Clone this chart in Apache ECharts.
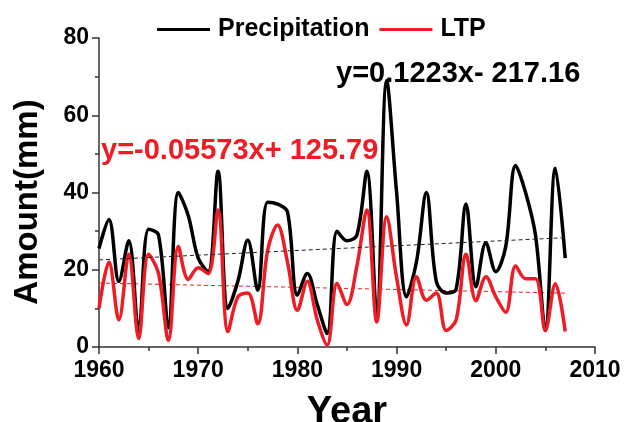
<!DOCTYPE html>
<html>
<head>
<meta charset="utf-8">
<script src="https://cdn.jsdelivr.net/npm/echarts@6/dist/echarts.min.js"></script>
<style>
html,body{margin:0;padding:0;background:#fff;}
#chart{width:625px;height:422px;}
</style>
</head>
<body>
<div id="chart"></div>
<script>
var years = [1960,1961,1962,1963,1964,1965,1966,1967,1968,1969,1970,1971,1972,1973,1974,1975,1976,1977,1978,1979,1980,1981,1982,1983,1984,1985,1986,1987,1988,1989,1990,1991,1992,1993,1994,1995,1996,1997,1998,1999,2000,2001,2002,2003,2004,2005,2006,2007];
var precipitation = [25.5,33,17,27.5,4,30.5,29,5,40,34,23,19.5,45.5,10,17,27.7,14.7,37.5,37,35,13.4,19,11,3.5,30,27.5,29,45.5,8,69,40,13,22,40,17,14,15,37,15.6,27,19.5,26,47,40,29,4.3,46.3,23];
var ltp = [10,22,7,24,2.2,24,19,1.7,26,17.5,20.5,19,35.5,4,13,14,6,25,31.6,22,9.5,17,7,0.5,16.5,11,21,35.5,6.5,33.7,18,5.7,18.2,12.1,14,4.3,7,24,12,18.2,13,9,21,17.7,17.7,4.3,16.4,4];
var trendYears = [1960, 2007];
var precipTrend = [22.55, 28.30];
var ltpTrend = [16.56, 13.94];
var xTicks = [1960,1970,1980,1990,2000,2010];
var yTicks = [0,20,40,60,80];
var precipEq = 'y=0.1223x- 217.16';
var ltpEq = 'y=-0.05573x+ 125.79';
var xTitle = 'Year';
var yTitle = 'Amount(mm)';

function pairs(xs, ys){ return xs.map(function(x,i){ return [x, ys[i]]; }); }

var FONT = '"Liberation Sans", Arial, sans-serif';
var RED = '#ee1d25';
var chart = echarts.init(document.getElementById('chart'), null, {renderer:'canvas'});
chart.setOption({
  animation:false,
  backgroundColor:'#fff',
  grid:{left:99, right:30, top:38, bottom:75, containLabel:false, outerBoundsMode:'none'},
  legend:{
    left:152, top:12, itemWidth:53, itemHeight:3, itemGap:10, icon:'rect',
    data:['Precipitation','LTP'],
    textStyle:{fontFamily:FONT, fontWeight:'bold', fontSize:25, color:'#000', padding:[0,0,0,3]}
  },
  xAxis:{
    type:'value', min:xTicks[0], max:xTicks[xTicks.length-1], interval:10,
    name:xTitle, nameLocation:'middle', nameGap:47,
    nameTextStyle:{fontFamily:FONT, fontWeight:'bold', fontSize:38, color:'#000'},
    axisLine:{show:true, lineStyle:{color:'#333', width:1.5}},
    axisTick:{show:true, inside:false, length:7, lineStyle:{color:'#333', width:1.5}},
    minorTick:{show:true, splitNumber:2, length:4, lineStyle:{color:'#333', width:1.5}},
    splitLine:{show:false},
    axisLabel:{fontFamily:FONT, fontWeight:'bold', fontSize:23, color:'#000', margin:12,
      formatter:function(v){return String(v);}}
  },
  yAxis:{
    type:'value', min:yTicks[0], max:yTicks[yTicks.length-1], interval:20,
    axisLine:{show:true, lineStyle:{color:'#333', width:1.5}},
    axisTick:{show:true, inside:false, length:7, lineStyle:{color:'#333', width:1.5}},
    minorTick:{show:true, splitNumber:2, length:4, lineStyle:{color:'#333', width:1.5}},
    splitLine:{show:false},
    axisLabel:{fontFamily:FONT, fontWeight:'bold', fontSize:23, color:'#000', margin:10}
  },
  series:[
    {name:'Precipitation', type:'line', data:pairs(years, precipitation), smooth:0.35,
      showSymbol:false, symbol:'none', lineStyle:{color:'#000', width:3.5}, itemStyle:{color:'#000'}, z:2},
    {name:'LTP', type:'line', data:pairs(years, ltp), smooth:0.35,
      showSymbol:false, symbol:'none', lineStyle:{color:RED, width:3.5}, itemStyle:{color:RED}, z:3},
    {name:'PrecipTrend', type:'line', data:pairs(trendYears, precipTrend), symbol:'none',
      lineStyle:{color:'#222', width:1, type:[4,3]}, z:4, silent:true},
    {name:'LTPTrend', type:'line', data:pairs(trendYears, ltpTrend), symbol:'none',
      lineStyle:{color:RED, width:1, type:[4,3]}, z:1, silent:true}
  ],
  graphic:[
    {type:'text', left:336, top:59, style:{text:precipEq, fill:'#000', font:'bold 29px '+FONT}},
    {type:'text', left:101, top:136, style:{text:ltpEq, fill:RED, font:'bold 29px '+FONT}},
    {type:'text', x:28, y:202, rotation:Math.PI/2,
      style:{text:yTitle, fill:'#000', font:'bold 33px '+FONT, align:'center', verticalAlign:'middle'}}
  ]
});
</script>
</body>
</html>
